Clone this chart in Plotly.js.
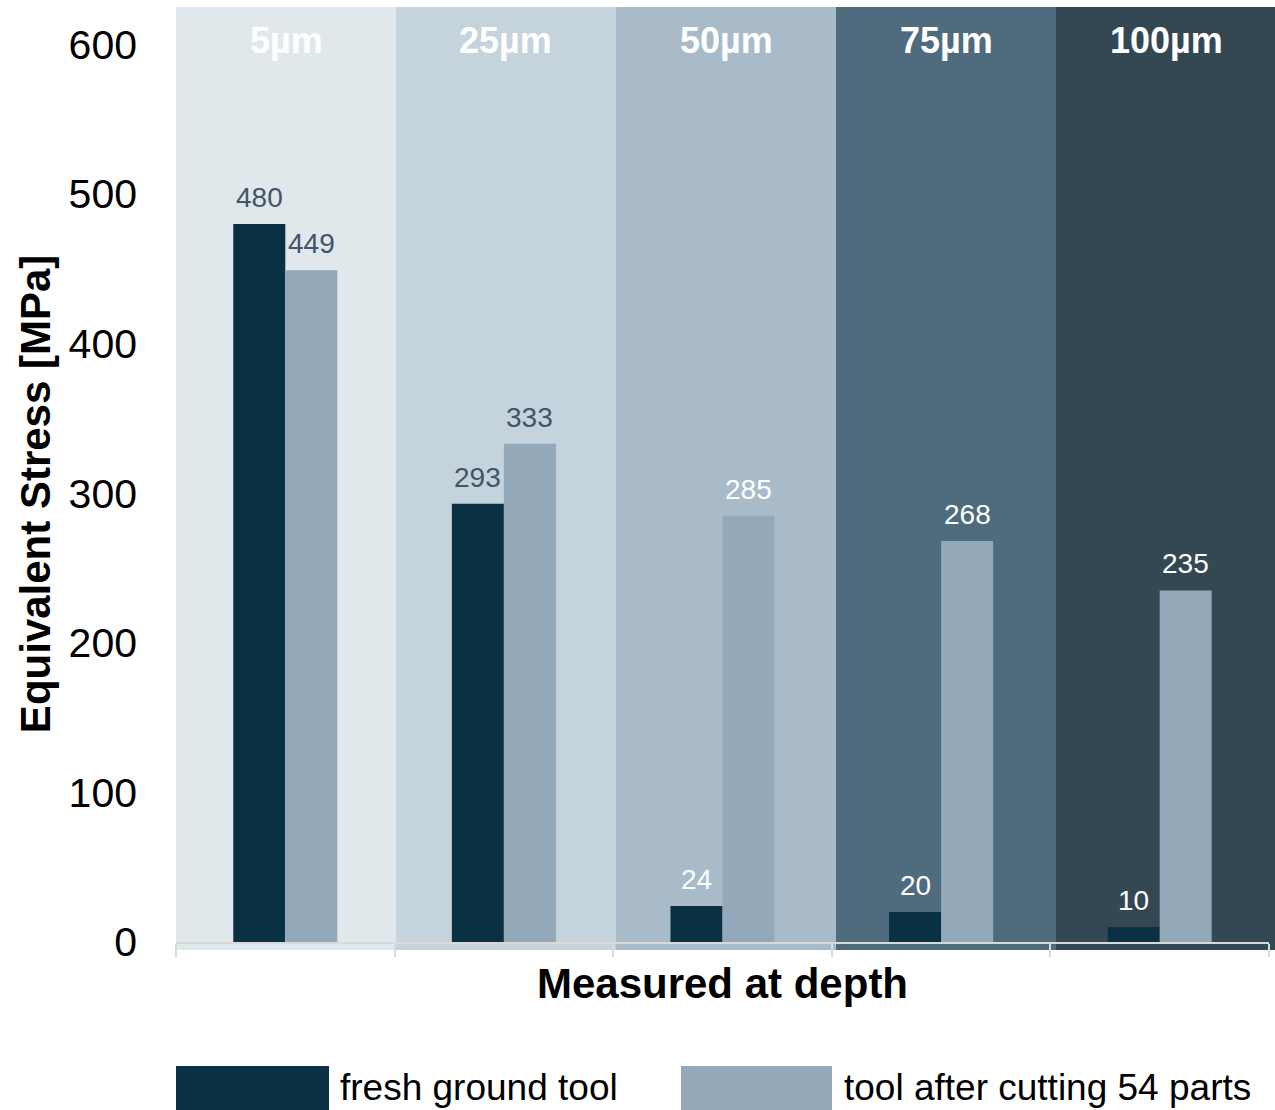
<!DOCTYPE html>
<html>
<head>
<meta charset="utf-8">
<script src="https://cdn.plot.ly/plotly-3.0.1.min.js"></script>
<style>
  html, body { margin: 0; padding: 0; background: #ffffff; }
  #chart { width: 1275px; height: 1110px; }
</style>
</head>
<body>
<div id="chart"></div>
<script>
// Measurement depths (categories)
const depths = ['5µm', '25µm', '50µm', '75µm', '100µm'];

// Equivalent stress in MPa per depth
const freshTool = [480, 293, 24, 20, 10];
const wornTool = [449, 333, 285, 268, 235];

const seriesNames = ['fresh ground tool', 'tool after cutting 54 parts'];
const seriesColors = ['#0A3043', '#93A8B8'];

// Background shade behind each depth column, and matching value-label colour
const bandColors = ['#E1E8EC', '#C5D3DC', '#A9BBC8', '#4F6B7E', '#344853'];
const valueLabelColors = ['#44546A', '#44546A', '#FFFFFF', '#FFFFFF', '#FFFFFF'];

const yAxisTitle = 'Equivalent Stress [MPa]';
const xAxisTitle = 'Measured at depth';

const FONT = 'Liberation Sans, Arial, sans-serif';

const traces = [freshTool, wornTool].map((vals, i) => ({
  type: 'bar',
  name: seriesNames[i],
  x: depths,
  y: vals,
  marker: { color: seriesColors[i], line: { width: 0 } },
  hoverinfo: 'x+y+name'
}));

const plotW = 1093;             // width of the plotting area in px
const plotH = 935;              // height of the plotting area in px
const bandStep = 220 / plotW;   // background columns are slightly wider than a category

const shapes = [];
const annotations = [];

depths.forEach((d, j) => {
  shapes.push({
    type: 'rect', layer: 'below',
    xref: 'paper', yref: 'paper',
    x0: j * bandStep, x1: (j + 1) * bandStep,
    y0: -8 / plotH, y1: 1,
    fillcolor: bandColors[j], line: { width: 0 }
  });
  // depth caption at the top of each column
  annotations.push({
    xref: 'paper', yref: 'paper',
    x: (j + 0.5) * bandStep, y: 0.9645,
    xanchor: 'center', yanchor: 'middle',
    text: '<b>' + d + '</b>', showarrow: false,
    font: { family: FONT, size: 36, color: '#FFFFFF' }
  });
});

// value labels above each bar
[freshTool, wornTool].forEach((vals, i) => {
  vals.forEach((v, j) => {
    annotations.push({
      xref: 'x', yref: 'y',
      x: depths[j], y: v,
      xshift: i === 0 ? -26 : 26, yshift: 9,
      xanchor: 'center', yanchor: 'bottom',
      text: String(v), showarrow: false,
      font: { family: FONT, size: 28, color: valueLabelColors[j] }
    });
  });
});

// vertical axis title
annotations.push({
  xref: 'paper', yref: 'paper',
  x: -141 / plotW, y: 0.479,
  xanchor: 'center', yanchor: 'middle',
  textangle: -90,
  text: '<b>' + yAxisTitle + '</b>', showarrow: false,
  font: { family: FONT, size: 42, color: '#000000' }
});

// legend drawn as large swatches below the axis title
const legendX = [[0, 153], [505, 656]];
const legendTextX = [162, 666];
seriesNames.forEach((name, i) => {
  shapes.push({
    type: 'rect', xref: 'paper', yref: 'paper',
    x0: legendX[i][0] / plotW, x1: legendX[i][1] / plotW,
    y0: -0.195, y1: -0.1326,
    fillcolor: seriesColors[i], line: { width: 0 }
  });
  annotations.push({
    xref: 'paper', yref: 'paper',
    x: legendTextX[i] / plotW, y: -0.156,
    xanchor: 'left', yanchor: 'middle',
    text: name, showarrow: false,
    font: { family: FONT, size: 37, color: '#000000' }
  });
});

const layout = {
  width: 1275,
  height: 1110,
  margin: { l: 176, r: 6, t: 7, b: 168, pad: 0 },
  paper_bgcolor: '#FFFFFF',
  plot_bgcolor: 'rgba(0,0,0,0)',
  showlegend: false,
  barmode: 'group',
  bargap: 0.524,
  bargroupgap: 0,
  font: { family: FONT, color: '#000000' },
  xaxis: {
    type: 'category',
    range: [-0.5, 4.5],
    showticklabels: false,
    showline: true,
    linecolor: '#D9D9D9',
    linewidth: 2,
    ticks: 'outside',
    tickson: 'boundaries',
    ticklen: 13,
    tickwidth: 2,
    tickcolor: '#D9D9D9',
    showgrid: false,
    zeroline: false,
    fixedrange: true,
    title: {
      text: '<b>' + xAxisTitle + '</b>',
      font: { family: FONT, size: 42, color: '#000000' },
      standoff: 26
    }
  },
  yaxis: {
    range: [0, 625],
    tickvals: [0, 100, 200, 300, 400, 500, 600],
    ticks: '',
    showline: false,
    showgrid: false,
    zeroline: false,
    ticklabelstandoff: 38,
    tickfont: { family: FONT, size: 41, color: '#000000' },
    fixedrange: true
  },
  shapes: shapes,
  annotations: annotations
};

Plotly.newPlot('chart', traces, layout, { displayModeBar: false, staticPlot: true });
</script>
</body>
</html>
